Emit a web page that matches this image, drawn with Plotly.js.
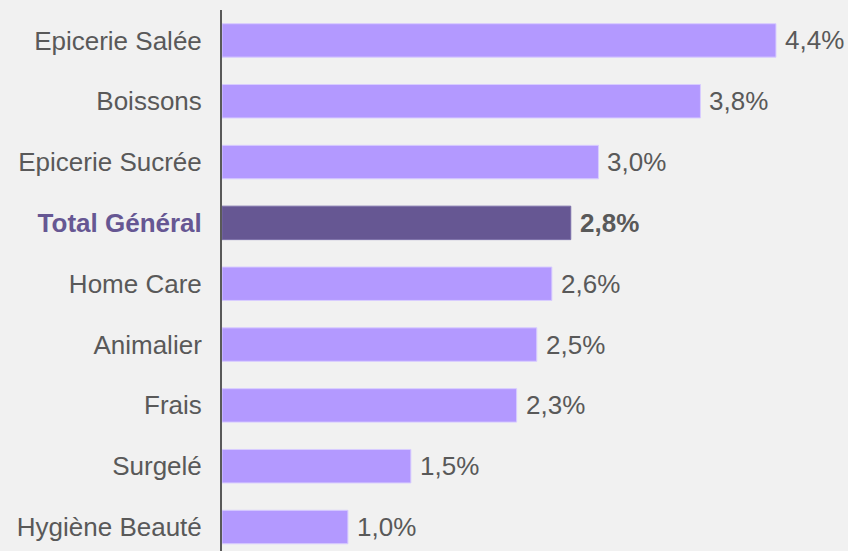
<!DOCTYPE html>
<html><head><meta charset="utf-8">
<script src="https://cdn.plot.ly/plotly-3.0.1.min.js"></script>
<style>body{margin:0;background:#f1f1f1}</style>
</head><body>
<div id="chart" style="width:848px;height:551px"></div>
<script>
const categories = ["Epicerie Salée","Boissons","Epicerie Sucrée","Total Général","Home Care","Animalier","Frais","Surgelé","Hygiène Beauté"];
const values = [4.40, 3.80, 2.99, 2.77, 2.62, 2.50, 2.34, 1.50, 1.00];
const valueLabels = ["4,4%","3,8%","3,0%","2,8%","2,6%","2,5%","2,3%","1,5%","1,0%"];
const highlight = "Total Général";

const isH = c => c === highlight;
const FONT = 'Liberation Sans, Arial, sans-serif';

const trace = {
  type: 'bar', orientation: 'h',
  y: categories, x: values,
  width: 0.55,
  marker: {
    color: categories.map(c => isH(c) ? '#665793' : '#b399ff'),
    line: {color: categories.map(c => isH(c) ? '#7a6ea8' : '#d8ccff'), width: 1}
  },
  hoverinfo: 'skip'
};

const annotations = categories.map((c, i) => ({
  x: values[i], y: c, xref: 'x', yref: 'y',
  text: isH(c) ? '<b>' + valueLabels[i] + '</b>' : valueLabels[i],
  showarrow: false, xanchor: 'left', yanchor: 'middle', xshift: 7,
  font: {family: FONT, size: 26, color: '#595959'}
}));

const layout = {
  width: 848, height: 551,
  paper_bgcolor: '#f1f1f1', plot_bgcolor: '#f1f1f1',
  margin: {l: 222, r: 0, t: 10, b: 0},
  showlegend: false,
  xaxis: {range: [0, 4.972], showgrid: false, zeroline: false, showticklabels: false, showline: false},
  yaxis: {
    type: 'category', categoryorder: 'array', categoryarray: categories,
    range: [8.394, -0.5],
    tickvals: categories,
    ticktext: categories.map(c => isH(c) ? '<b><span style="color:#665793">' + c + '</span></b>' : c),
    showgrid: false, zeroline: false,
    showline: true, linecolor: '#595959', linewidth: 2,
    ticks: '', ticklabelstandoff: 13,
    tickfont: {family: FONT, size: 26, color: '#595959'}
  },
  annotations: annotations
};

Plotly.newPlot('chart', [trace], layout, {displayModeBar: false, staticPlot: true});
</script>
</body></html>
